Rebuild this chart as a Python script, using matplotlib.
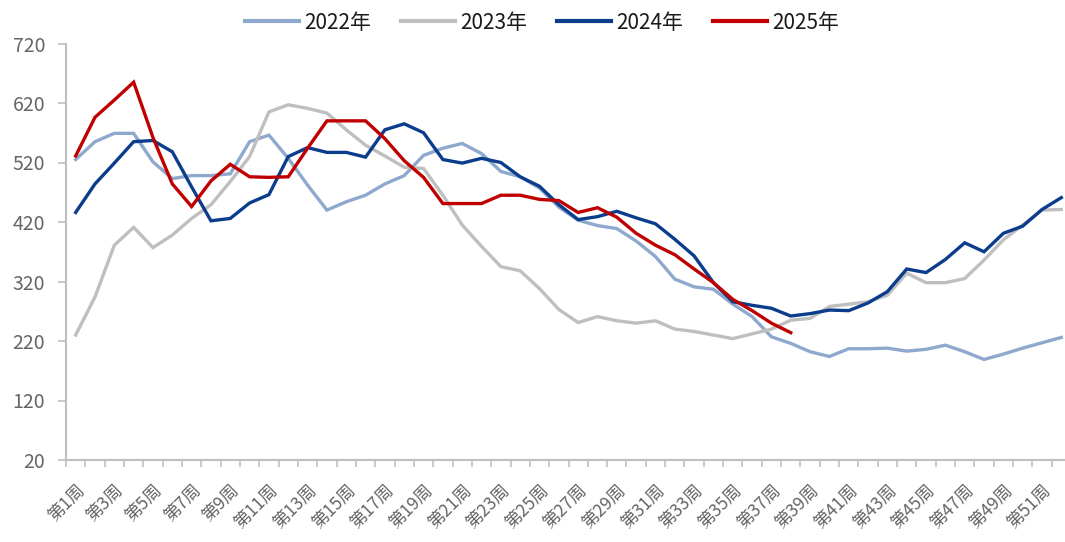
import numpy as np
import matplotlib
matplotlib.use('Agg')
import matplotlib.pyplot as plt

plt.rcParams['font.family'] = ['Noto Sans CJK SC', 'DejaVu Sans']

# weekly data, week 1..52
weeks = np.arange(1, 53)
tick_labels = ['第%d周' % w for w in weeks]

y2022 = [525, 555, 569, 569, 521, 493, 498, 498, 501, 555,
         566, 527, 482, 440, 454, 465, 484, 498, 532, 544,
         552, 535, 505, 496, 477, 445, 423, 414, 409, 388,
         362, 324, 311, 307, 282, 261, 227, 216, 202, 194,
         207, 207, 208, 203, 206, 213, 202, 189, 198, 208,
         217, 226]
y2023 = [230, 294, 381, 411, 377, 398, 426, 449, 488, 530,
         605, 617, 611, 603, 575, 549, 531, 512, 510, 465,
         415, 379, 345, 338, 308, 273, 251, 261, 254, 250,
         254, 240, 236, 230, 224, 232, 240, 255, 258, 278,
         282, 286, 297, 334, 318, 318, 325, 356, 390, 415,
         440, 441]
y2024 = [436, 484, 519, 555, 557, 538, 479, 422, 426, 452,
         466, 530, 545, 537, 537, 529, 575, 585, 570, 525,
         519, 527, 520, 496, 480, 449, 424, 429, 438, 427,
         417, 391, 363, 318, 286, 280, 275, 262, 266, 272,
         271, 284, 303, 341, 335, 357, 385, 370, 401, 413,
         441, 461]
y2025 = [531, 596, 625, 655, 562, 484, 446, 489, 517, 496,
         495, 496, 544, 590, 590, 590, 560, 523, 495, 451,
         451, 451, 465, 465, 458, 456, 436, 444, 428, 401,
         381, 365, 341, 318, 290, 271, 250, 234]

series = [('2022年', y2022, '#8EA8CE'),
          ('2023年', y2023, '#BFBFBF'),
          ('2024年', y2024, '#0B3D8C'),
          ('2025年', y2025, '#C00000')]

fig = plt.figure(figsize=(10.65, 5.42), dpi=100)
ax = fig.add_axes([66 / 1065, 82 / 542, 1005 / 1065, 416.5 / 542])

for name, vals, col in series:
    ax.plot(weeks[:len(vals)], vals, color=col, lw=2.4, label=name,
            solid_joinstyle='miter')

ax.set_xlim(0.5, 52.5)
ax.set_ylim(20, 720)
ax.set_yticks(np.arange(20, 721, 100))

ax.set_xticks(weeks[::2])
ax.set_xticklabels(tick_labels[::2], rotation=45, ha='right', va='top',
                   rotation_mode='anchor')
ax.set_xticks(np.arange(0.5, 53, 1), minor=True)
ax.tick_params(axis='x', which='major', length=0, pad=15,
               labelsize=12.5, labelcolor='#666666')
ax.tick_params(axis='x', which='minor', length=5, color='#BFBFBF', width=1.2)
ax.tick_params(axis='y', length=6, color='#BFBFBF', width=1.2,
               labelsize=14, labelcolor='#666666', pad=9)

for s in ['top', 'right']:
    ax.spines[s].set_visible(False)
for s in ['left', 'bottom']:
    ax.spines[s].set_color('#BFBFBF')
    ax.spines[s].set_linewidth(1.5)

leg = fig.legend(loc='center', bbox_to_anchor=(0.509, 0.958), ncol=4,
                 frameon=False, fontsize=15, handlelength=2.6,
                 columnspacing=1.44, handletextpad=0.24)
for line in leg.get_lines():
    line.set_linewidth(3)
for t in leg.get_texts():
    t.set_color('#1a1a1a')

fig.savefig('out.png', dpi=100)
